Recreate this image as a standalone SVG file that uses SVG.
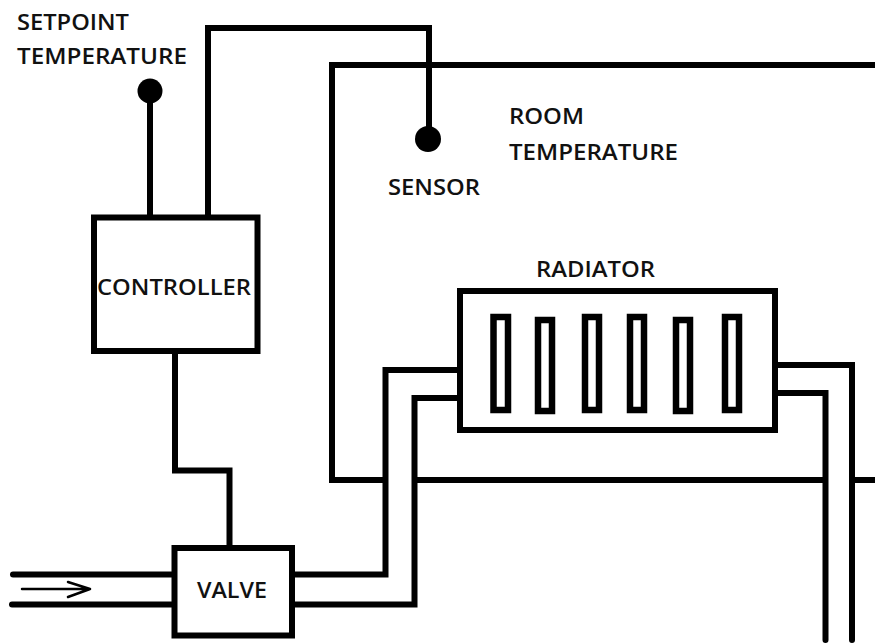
<svg xmlns="http://www.w3.org/2000/svg" width="875" height="644" viewBox="0 0 875 644">
<style>
.ln{fill:none;stroke:#000;stroke-width:6;stroke-linejoin:miter;stroke-linecap:butt}
.rd{stroke-linecap:round}
.box{fill:#fff;stroke:#000;stroke-width:6}
.fin{fill:#fff;stroke:#000;stroke-width:6.5}
.thin{fill:none;stroke:#000;stroke-width:2.5;stroke-linecap:round;stroke-linejoin:round}
text{font-family:"Open Sans","Liberation Sans",sans-serif;font-weight:600;font-size:22px;fill:#111}
</style>
<rect width="875" height="644" fill="#fff"/>
<g id="room">
<path class="ln" d="M875,65 H332 V480 H386"/>
<path class="ln" d="M414,480 H826"/>
<path class="ln" d="M852,480 H875"/>
<text x="509" y="124" textLength="75" lengthAdjust="spacingAndGlyphs">ROOM</text>
<text x="509" y="160" textLength="169" lengthAdjust="spacingAndGlyphs">TEMPERATURE</text>
</g>
<g id="connectors">
<path class="ln" d="M150,91 V218"/>
<path class="ln" d="M208,218 V28 H429 V139"/>
<path class="ln" d="M175,351 V470.5 H229.5 V548"/>
<path class="ln rd" d="M13,574.5 H174"/>
<path class="ln rd" d="M12,604.5 H174"/>
<path class="ln" d="M292,574.5 H385.5 V370 H460"/>
<path class="ln" d="M292,604.5 H414.5 V398 H460"/>
<path class="ln rd" d="M775,365 H852 V640"/>
<path class="ln rd" d="M775,393 H825.5 V640"/>
<path class="thin" d="M22,589 H90 M68,582 L90,589 L68,597"/>
</g>
<g id="setpoint">
<circle cx="150" cy="91" r="12.5" fill="#000"/>
<text x="17" y="30" textLength="112" lengthAdjust="spacingAndGlyphs">SETPOINT</text>
<text x="17" y="64" textLength="170" lengthAdjust="spacingAndGlyphs">TEMPERATURE</text>
</g>
<g id="sensor">
<circle cx="428" cy="139" r="13" fill="#000"/>
<text x="388" y="195" textLength="92" lengthAdjust="spacingAndGlyphs">SENSOR</text>
</g>
<g id="controller">
<rect class="box" x="94" y="217.5" width="163.5" height="133.5"/>
<text x="97" y="295" textLength="154" lengthAdjust="spacingAndGlyphs" font-size="24">CONTROLLER</text>
</g>
<g id="valve">
<rect class="box" x="174.5" y="548" width="117.5" height="87.5"/>
<text x="197" y="598" textLength="70" lengthAdjust="spacingAndGlyphs">VALVE</text>
</g>
<g id="radiator">
<rect class="box" x="460" y="291" width="315" height="139"/>
<rect class="fin" x="493.5" y="317" width="14.5" height="93"/>
<rect class="fin" x="538" y="320" width="14" height="91"/>
<rect class="fin" x="585" y="317" width="14" height="93"/>
<rect class="fin" x="630" y="317" width="14" height="93"/>
<rect class="fin" x="676" y="320" width="14" height="91"/>
<rect class="fin" x="725" y="317" width="14" height="93"/>
<text x="536" y="277" textLength="119" lengthAdjust="spacingAndGlyphs">RADIATOR</text>
</g>
</svg>
